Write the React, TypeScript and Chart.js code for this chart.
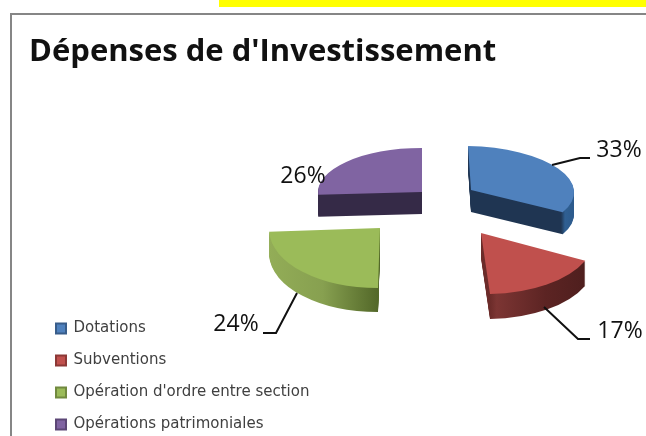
import React, { useEffect, useRef } from "react";
import { Chart, registerables } from "chart.js";

Chart.register(...registerables);

const categories = ["Dotations", "Subventions", "Opération d'ordre entre section", "Opérations patrimoniales"];
const values = [33, 17, 24, 26];
const titleText = "Dépenses de d'Investissement";

const topColors = ["#4f81bd", "#c0504d", "#9bbb59", "#8064a2"];
const legendBorders = ["#385d8a", "#8c3836", "#71893f", "#5c4776"];
const rimStops: [number, string][][] = [
  [[0, "#1f3552"], [0.93, "#1f3552"], [0.95, "#2f5f92"], [1, "#2c5a8c"]],
  [[0.5, "#6b2b29"], [0.53, "#7c3533"], [0.75, "#5c2423"], [1, "#4a1d1c"]],
  [[0, "#93ad57"], [0.25, "#87a050"], [0.5, "#536829"]],
  [[0, "#352a47"], [1, "#352a47"]],
];
// per-slice view of the exploded, tilted pie: shift from pie centre, radius vectors and extrusion depth
const sliceViews = [
  { dx: 133.5, dy: -68.5, ux: 103, uy: 1, vx: 3, vy: 44, depth: 22 },
  { dx: 143.5, dy: -25.5, ux: 114, uy: -2, vx: 9, vy: 61, depth: 25 },
  { dx: 42.5, dy: -30.5, ux: 111, uy: 0, vx: -2, vy: 60, depth: 24 },
  { dx: 84.5, dy: -66.5, ux: 104, uy: 0, vx: 0, vy: 44, depth: 22 },
];
const labelViews = [
  { x: 619, y: 150, line: [[552, 165], [580, 158], [590, 158]] },
  { x: 620, y: 331, line: [[544, 307], [578, 339], [590, 339]] },
  { x: 236, y: 324, line: [[297, 293], [276, 333], [263, 333]] },
  { x: 303, y: 176, line: [] as number[][] },
];
const legendBox = { left: 39, bottom: 449 };

const pie3d = {
  id: "pie3d",
  beforeDraw(chart: any) {
    chart.legend.left = legendBox.left;
    chart.legend.bottom = legendBox.bottom;
  },
  beforeDatasetDraw(chart: any) {
    const ctx: CanvasRenderingContext2D = chart.ctx;
    const arcs = chart.getDatasetMeta(0).data;
    arcs.forEach((arc: any, i: number) => {
      const v = sliceViews[i];
      const R = arc.outerRadius;
      const a = v.ux / R, b = v.uy / R, c = v.vx / R, d = v.vy / R;
      const e = arc.x + v.dx - a * arc.x - c * arc.y;
      const f = arc.y + v.dy - b * arc.x - d * arc.y;
      const grad = ctx.createLinearGradient(arc.x - R, 0, arc.x + R, 0);
      rimStops[i].forEach(([p, col]) => grad.addColorStop(p, col));
      const base = arc.options;
      for (let k = v.depth; k >= 0; k--) {
        ctx.save();
        ctx.transform(a, b, c, d, e, f + k);
        arc.options = { ...base, backgroundColor: k === 0 ? topColors[i] : grad };
        arc.draw(ctx);
        ctx.restore();
      }
      arc.options = base;
    });
    return false;
  },
  afterDatasetsDraw(chart: any) {
    const ctx: CanvasRenderingContext2D = chart.ctx;
    const total = values.reduce((s, x) => s + x, 0);
    ctx.save();
    ctx.strokeStyle = "#111111";
    ctx.lineWidth = 2;
    ctx.fillStyle = "#111111";
    ctx.font = '23px "Open Sans"';
    ctx.textAlign = "center";
    ctx.textBaseline = "middle";
    labelViews.forEach((l, i) => {
      if (l.line.length) {
        ctx.beginPath();
        l.line.forEach(([x, y], j) => (j ? ctx.lineTo(x, y) : ctx.moveTo(x, y)));
        ctx.stroke();
      }
      ctx.fillText(`${Math.round((values[i] / total) * 100)}%`, l.x, l.y);
    });
    ctx.restore();
  },
};

export default function App() {
  const ref = useRef<HTMLCanvasElement>(null);
  useEffect(() => {
    const chart = new Chart(ref.current as HTMLCanvasElement, {
      type: "pie",
      data: {
        labels: categories,
        datasets: [{ data: values, backgroundColor: topColors, borderWidth: 0 }],
      },
      options: {
        animation: false,
        responsive: false,
        events: [],
        layout: { padding: { left: 29, right: 0, top: 0, bottom: 0 } },
        plugins: {
          tooltip: { enabled: false },
          title: {
            display: true,
            text: titleText,
            align: "start",
            color: "#111111",
            font: { family: '"Open Sans"', size: 31, weight: "bold" },
            padding: { top: 34, bottom: 10 },
          },
          legend: {
            display: true,
            position: "chartArea",
            align: "end",
            labels: {
              boxWidth: 10,
              boxHeight: 10,
              padding: 17,
              color: "#404040",
              font: { family: '"DejaVu Sans"', size: 15 },
              generateLabels: () =>
                categories.map((text, i) => ({
                  text,
                  fillStyle: topColors[i],
                  strokeStyle: legendBorders[i],
                  lineWidth: 2,
                  index: i,
                  fontColor: "#404040",
                })),
            },
          },
        },
      } as any,
      plugins: [pie3d],
    });
    return () => chart.destroy();
  }, []);
  return (
    <div style={{ position: "fixed", left: 0, top: 0, width: 646, height: 436, overflow: "hidden", background: "#ffffff" }}>
      <div style={{ position: "absolute", left: 219, top: 0, width: 427, height: 7, background: "#ffff00" }} />
      <div style={{ position: "absolute", left: 10, top: 13, width: 700, height: 500, borderLeft: "2px solid #868686", borderTop: "2px solid #868686" }} />
      <canvas ref={ref} width={646} height={436} style={{ position: "absolute", left: 0, top: 0 }} />
    </div>
  );
}
